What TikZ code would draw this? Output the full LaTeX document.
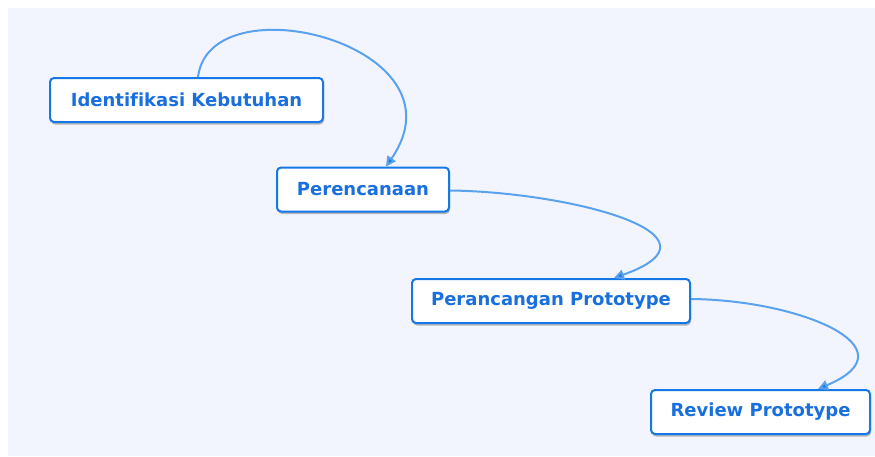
\documentclass[tikz,border=0pt]{standalone}
\usepackage{fontspec}
\setmainfont[Ligatures=NoCommon]{DejaVu Sans}
\usetikzlibrary{shadows}
\usetikzlibrary{arrows.meta}
\definecolor{bgblue}{HTML}{F2F5FE}
\definecolor{boxblue}{HTML}{1677E6}
\definecolor{textblue}{HTML}{1A6FDF}
\definecolor{lineblue}{HTML}{5AA2EE}
\tikzset{step box/.style={draw=boxblue,line width=2pt,fill=white,rounded corners=4pt,
    minimum height=44pt,inner xsep=0pt,text=textblue,font=\bfseries\fontsize{18}{21}\selectfont,
    drop shadow={shadow xshift=1pt,shadow yshift=-2.5pt,fill=black!45,opacity=.6}}}
\tikzset{flow/.style={draw=lineblue,line width=2pt,-{Triangle[length=10pt,width=10pt,fill=boxblue]}}}

\begin{document}
\begin{tikzpicture}[x=1pt,y=-1pt]
        
          %latar
          \useasboundingbox (0,0) rectangle (875,456);
          \fill[bgblue] (8,8) rectangle (875,456);

          %kotak
          \node[step box, minimum width=273pt] (identifikasi) at (186.5,100) {Identifikasi Kebutuhan};
          \node[step box, minimum width=172pt] (perencanaan) at (363,189.5) {Perencanaan};
          \node[step box, minimum width=278pt] (perancangan) at (551,301) {Perancangan Prototype};
          \node[step box, minimum width=219pt] (review) at (760.5,412) {Review Prototype};

          %panah
          \draw[flow] ([xshift=11.5pt]identifikasi.north)
              .. controls (210,-20) and (470,45) .. ([xshift=23pt]perencanaan.north);
          \draw[flow] ([yshift=-1pt]perencanaan.east)
              .. controls (570,192) and (735,235) .. ([xshift=63pt]perancangan.north);
          \draw[flow] ([yshift=2pt]perancangan.east)
              .. controls (800,300) and (915,348) .. ([xshift=57.5pt]review.north);

        \end{tikzpicture}
\end{document}
